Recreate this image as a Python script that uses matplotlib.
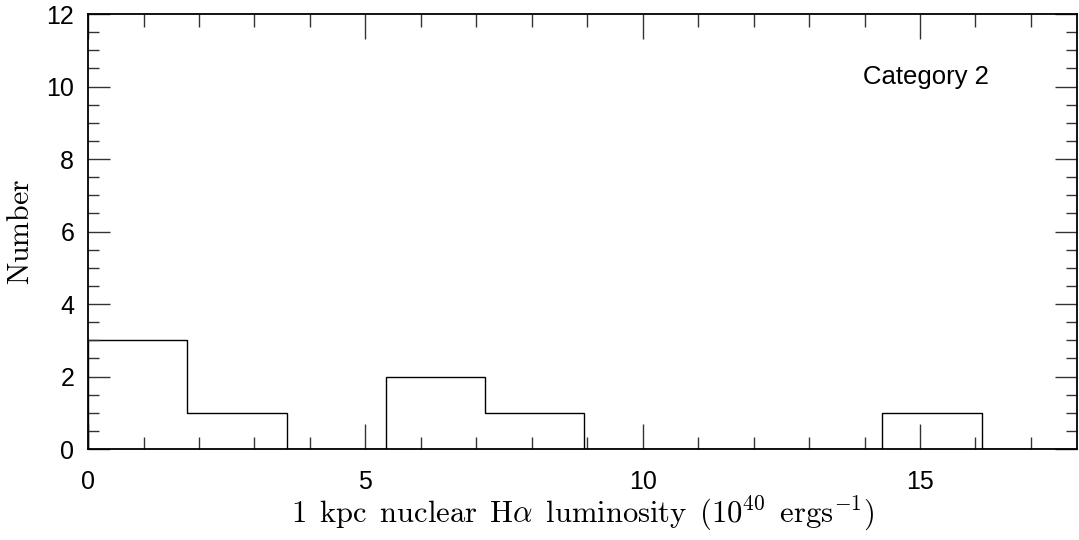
import matplotlib
matplotlib.use("Agg")
import matplotlib.pyplot as plt
import numpy as np
from matplotlib.ticker import MultipleLocator

plt.rcParams['mathtext.fontset'] = 'cm'

bin_edges = [0.0, 1.79, 3.58, 5.37, 7.16, 8.95, 10.74, 12.53, 14.32, 16.11, 17.9]
counts = [3, 1, 0, 2, 1, 0, 0, 0, 1, 0]
label_text = "Category 2"

xlabel = (r'$\mathrm{1}\ \,\mathrm{kpc}\ \,\mathrm{nuclear}\ \,\mathrm{H}\alpha\ \,'
          r'\mathrm{luminosity}\ \,\mathrm{(10^{40}}\ \,\mathrm{ergs^{-1})}$')
ylabel = r'$\mathrm{Number}$'

fig = plt.figure(figsize=(10.79, 5.40), dpi=100)
ax = fig.add_axes([0.0816, 0.1685, 0.9165, 0.8055])

ax.stairs(counts, bin_edges, color='black', linewidth=1.0)

ax.set_xlim(0, 17.83)
ax.set_ylim(0, 12)
ax.xaxis.set_major_locator(MultipleLocator(5))
ax.xaxis.set_minor_locator(MultipleLocator(1))
ax.yaxis.set_major_locator(MultipleLocator(2))
ax.yaxis.set_minor_locator(MultipleLocator(0.5))
ax.tick_params(which='both', direction='in', top=True, right=True, width=1.0, color='#333333')
ax.tick_params(which='major', length=16)
ax.tick_params(which='minor', length=8)
ax.tick_params(axis='y', which='major', pad=10)
ax.tick_params(axis='x', which='major', length=18, pad=15)
ax.tick_params(axis='x', which='minor', length=9)
for lab in ax.get_xticklabels() + ax.get_yticklabels():
    lab.set_family('Liberation Sans')
    lab.set_fontsize(18)
for sp in ax.spines.values():
    sp.set_linewidth(1.3)

ax.set_xlabel(xlabel, fontsize=22, labelpad=0)
ax.set_ylabel(ylabel, fontsize=21.5, labelpad=8)

ax.text(0.7835, 0.855, label_text, transform=ax.transAxes, family='Liberation Sans', fontsize=18.5, ha='left', va='center')

fig.savefig('out.png', dpi=100)
